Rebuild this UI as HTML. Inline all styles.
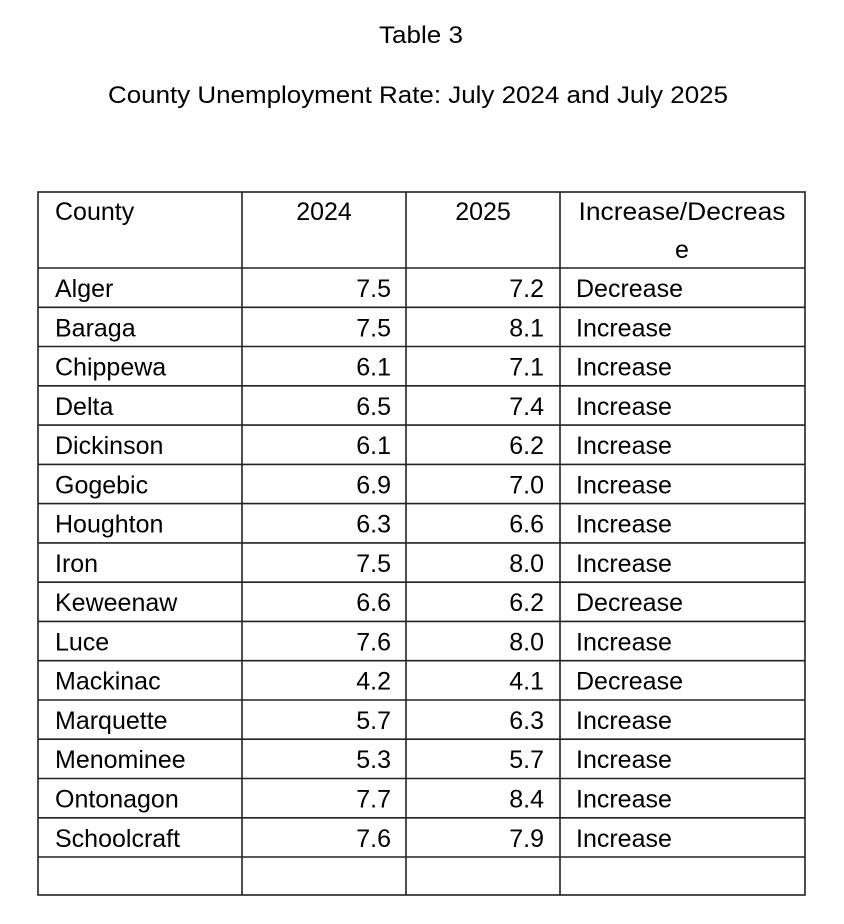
<!DOCTYPE html>
<html><head><meta charset="utf-8"><style>
html,body{margin:0;padding:0;background:#fff;}
svg{display:block;font-family:"Liberation Sans",sans-serif;fill:#000;}
</style></head><body>
<svg width="844" height="924" viewBox="0 0 844 924" xmlns="http://www.w3.org/2000/svg">
<text x="421" y="43" font-size="24" text-anchor="middle" textLength="84" lengthAdjust="spacingAndGlyphs">Table 3</text>
<text x="418" y="103" font-size="24" text-anchor="middle" textLength="620" lengthAdjust="spacingAndGlyphs">County Unemployment Rate: July 2024 and July 2025</text>
<g stroke="#222" stroke-width="1.6" fill="none">
<rect x="38" y="192" width="767" height="703"/>
<line x1="242" y1="192" x2="242" y2="895"/>
<line x1="406" y1="192" x2="406" y2="895"/>
<line x1="560" y1="192" x2="560" y2="895"/>
<line x1="38" y1="268" x2="805" y2="268"/>
<line x1="38" y1="307.3" x2="805" y2="307.3"/>
<line x1="38" y1="346.5" x2="805" y2="346.5"/>
<line x1="38" y1="385.8" x2="805" y2="385.8"/>
<line x1="38" y1="425.1" x2="805" y2="425.1"/>
<line x1="38" y1="464.4" x2="805" y2="464.4"/>
<line x1="38" y1="503.6" x2="805" y2="503.6"/>
<line x1="38" y1="542.9" x2="805" y2="542.9"/>
<line x1="38" y1="582.2" x2="805" y2="582.2"/>
<line x1="38" y1="621.4" x2="805" y2="621.4"/>
<line x1="38" y1="660.7" x2="805" y2="660.7"/>
<line x1="38" y1="700" x2="805" y2="700"/>
<line x1="38" y1="739.2" x2="805" y2="739.2"/>
<line x1="38" y1="778.5" x2="805" y2="778.5"/>
<line x1="38" y1="817.8" x2="805" y2="817.8"/>
<line x1="38" y1="857" x2="805" y2="857"/>
</g>
<g font-size="25">
<text x="55" y="220">County</text>
<text x="324" y="220" text-anchor="middle">2024</text>
<text x="483" y="220" text-anchor="middle">2025</text>
<text x="682" y="220" text-anchor="middle" textLength="207" lengthAdjust="spacingAndGlyphs">Increase/Decreas</text>
<text x="682" y="258" text-anchor="middle">e</text>
</g>
<g font-size="25">
<text x="55" y="297">Alger</text><text x="391" y="297" text-anchor="end">7.5</text><text x="544" y="297" text-anchor="end">7.2</text><text x="576" y="297">Decrease</text>
<text x="55" y="336.3">Baraga</text><text x="391" y="336.3" text-anchor="end">7.5</text><text x="544" y="336.3" text-anchor="end">8.1</text><text x="576" y="336.3">Increase</text>
<text x="55" y="375.5">Chippewa</text><text x="391" y="375.5" text-anchor="end">6.1</text><text x="544" y="375.5" text-anchor="end">7.1</text><text x="576" y="375.5">Increase</text>
<text x="55" y="414.8">Delta</text><text x="391" y="414.8" text-anchor="end">6.5</text><text x="544" y="414.8" text-anchor="end">7.4</text><text x="576" y="414.8">Increase</text>
<text x="55" y="454.1">Dickinson</text><text x="391" y="454.1" text-anchor="end">6.1</text><text x="544" y="454.1" text-anchor="end">6.2</text><text x="576" y="454.1">Increase</text>
<text x="55" y="493.4">Gogebic</text><text x="391" y="493.4" text-anchor="end">6.9</text><text x="544" y="493.4" text-anchor="end">7.0</text><text x="576" y="493.4">Increase</text>
<text x="55" y="532.6">Houghton</text><text x="391" y="532.6" text-anchor="end">6.3</text><text x="544" y="532.6" text-anchor="end">6.6</text><text x="576" y="532.6">Increase</text>
<text x="55" y="571.9">Iron</text><text x="391" y="571.9" text-anchor="end">7.5</text><text x="544" y="571.9" text-anchor="end">8.0</text><text x="576" y="571.9">Increase</text>
<text x="55" y="611.2">Keweenaw</text><text x="391" y="611.2" text-anchor="end">6.6</text><text x="544" y="611.2" text-anchor="end">6.2</text><text x="576" y="611.2">Decrease</text>
<text x="55" y="650.4">Luce</text><text x="391" y="650.4" text-anchor="end">7.6</text><text x="544" y="650.4" text-anchor="end">8.0</text><text x="576" y="650.4">Increase</text>
<text x="55" y="689.7">Mackinac</text><text x="391" y="689.7" text-anchor="end">4.2</text><text x="544" y="689.7" text-anchor="end">4.1</text><text x="576" y="689.7">Decrease</text>
<text x="55" y="729">Marquette</text><text x="391" y="729" text-anchor="end">5.7</text><text x="544" y="729" text-anchor="end">6.3</text><text x="576" y="729">Increase</text>
<text x="55" y="768.2">Menominee</text><text x="391" y="768.2" text-anchor="end">5.3</text><text x="544" y="768.2" text-anchor="end">5.7</text><text x="576" y="768.2">Increase</text>
<text x="55" y="807.5">Ontonagon</text><text x="391" y="807.5" text-anchor="end">7.7</text><text x="544" y="807.5" text-anchor="end">8.4</text><text x="576" y="807.5">Increase</text>
<text x="55" y="846.8">Schoolcraft</text><text x="391" y="846.8" text-anchor="end">7.6</text><text x="544" y="846.8" text-anchor="end">7.9</text><text x="576" y="846.8">Increase</text>
</g>
</svg>
</body></html>
